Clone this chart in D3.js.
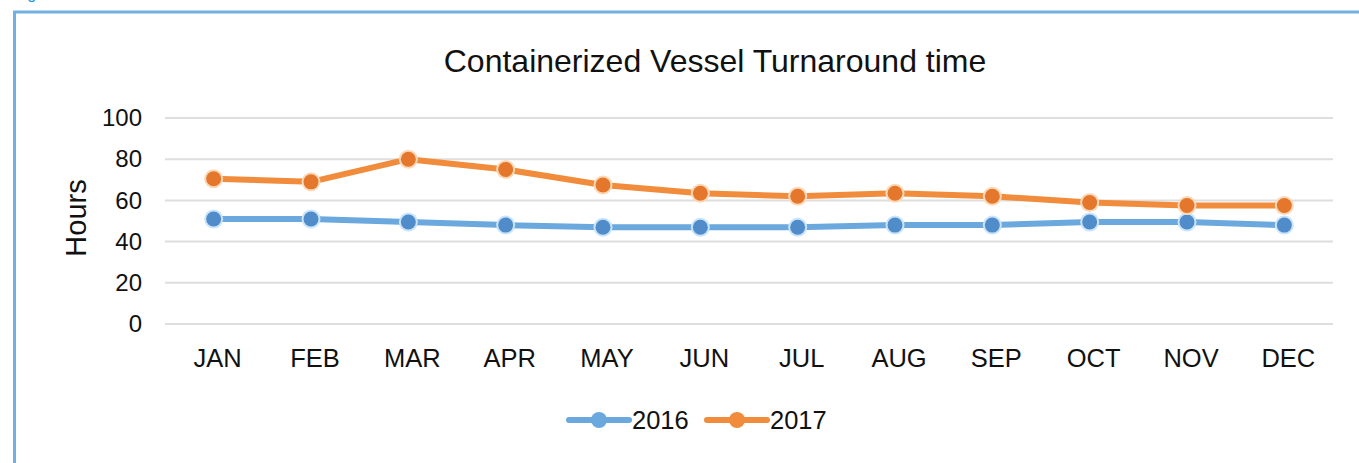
<!DOCTYPE html>
<html>
<head>
<meta charset="utf-8">
<script src="https://cdn.jsdelivr.net/npm/d3@7"></script>
<style>
  body { margin: 0; background: #fff; }
  svg { display: block; font-family: "Liberation Sans", Arial, sans-serif; }
</style>
</head>
<body>
<svg width="1359" height="463"></svg>
<script>
const months = ["JAN", "FEB", "MAR", "APR", "MAY", "JUN", "JUL", "AUG", "SEP", "OCT", "NOV", "DEC"];
const hours2016 = [51, 51, 49.5, 48, 47, 47, 47, 48, 48, 49.5, 49.5, 48];
const hours2017 = [70.5, 69, 80, 75, 67.5, 63.5, 62, 63.5, 62, 59, 57.5, 57.5];
const yTicks = [0, 20, 40, 60, 80, 100];
const seriesNames = ["2016", "2017"];

const colors = {
  "2016": { line: "#6aa8de", dot: "#4f8cc9", halo: "#c9e4fb" },
  "2017": { line: "#f08c3b", dot: "#e4772b", halo: "#fbd9b8" }
};

const svg = d3.select("svg");

// Frame around the figure (caption above is cropped off)
svg.append("text").attr("x", 14).attr("y", -1)
  .attr("font-size", 16).attr("fill", "#1a9be0").text("Figure");
svg.append("path")
  .attr("d", "M14.5,463 V12 H1359")
  .attr("fill", "none").attr("stroke", "#72b0e2").attr("stroke-width", 3);

// Scales
const x = d3.scaleBand().domain(months).range([165, 1333]);
const y = d3.scaleLinear().domain([0, 100]).range([324, 118]);
const cx = m => x(m) + x.bandwidth() / 2;

// Title
svg.append("text")
  .attr("x", 715).attr("y", 72)
  .attr("text-anchor", "middle")
  .attr("font-size", 32)
  .attr("fill", "#111")
  .text("Containerized Vessel Turnaround time");

// Grid lines
svg.append("g")
  .selectAll("line").data(yTicks).join("line")
  .attr("x1", 165).attr("x2", 1333)
  .attr("y1", d => y(d)).attr("y2", d => y(d))
  .attr("stroke", "#dedede").attr("stroke-width", 2);

// Y axis labels
const yAxis = d3.axisLeft(y).tickValues(yTicks).tickSize(0).tickPadding(0);
svg.append("g")
  .attr("transform", "translate(142,0)")
  .call(yAxis)
  .call(g => g.select(".domain").remove())
  .call(g => g.selectAll("text")
    .attr("font-size", 24).attr("fill", "#111")
    .attr("font-family", "Liberation Sans, Arial, sans-serif"));

// X axis labels
const xAxis = d3.axisBottom(x).tickSize(0).tickPadding(0);
svg.append("g")
  .attr("transform", "translate(4,349)")
  .call(xAxis)
  .call(g => g.select(".domain").remove())
  .call(g => g.selectAll("text")
    .attr("font-size", 25.5).attr("fill", "#111")
    .attr("font-family", "Liberation Sans, Arial, sans-serif"));

// Y axis title
svg.append("text")
  .attr("transform", "translate(86,218) rotate(-90)")
  .attr("text-anchor", "middle")
  .attr("font-size", 29)
  .attr("fill", "#111")
  .text("Hours");

// Lines
const line = d3.line()
  .x((d, i) => cx(months[i]))
  .y(d => y(d));

const series = [
  { name: "2016", values: hours2016 },
  { name: "2017", values: hours2017 }
];

series.forEach(s => {
  const c = colors[s.name];
  const g = svg.append("g");
  g.append("path")
    .attr("d", line(s.values))
    .attr("fill", "none")
    .attr("stroke", c.line)
    .attr("stroke-width", 6)
    .attr("stroke-linejoin", "round");
  g.selectAll("circle.halo").data(s.values).join("circle")
    .attr("class", "halo")
    .attr("cx", (d, i) => cx(months[i]))
    .attr("cy", d => y(d))
    .attr("r", 9.5)
    .attr("fill", c.halo);
  g.selectAll("circle.dot").data(s.values).join("circle")
    .attr("class", "dot")
    .attr("cx", (d, i) => cx(months[i]))
    .attr("cy", d => y(d))
    .attr("r", 7.5)
    .attr("fill", c.dot);
});

// Legend
const legendX = [569, 707];
const legend = svg.append("g");
seriesNames.forEach((name, i) => {
  const c = colors[name];
  const lx = legendX[i];
  legend.append("line")
    .attr("x1", lx).attr("x2", lx + 60)
    .attr("y1", 420).attr("y2", 420)
    .attr("stroke", c.line).attr("stroke-width", 6)
    .attr("stroke-linecap", "round");
  legend.append("circle")
    .attr("cx", lx + 30).attr("cy", 420).attr("r", 8)
    .attr("fill", c.line);
  legend.append("text")
    .attr("x", lx + 63).attr("y", 429)
    .attr("font-size", 25.5).attr("fill", "#111")
    .text(name);
});
</script>
</body>
</html>
